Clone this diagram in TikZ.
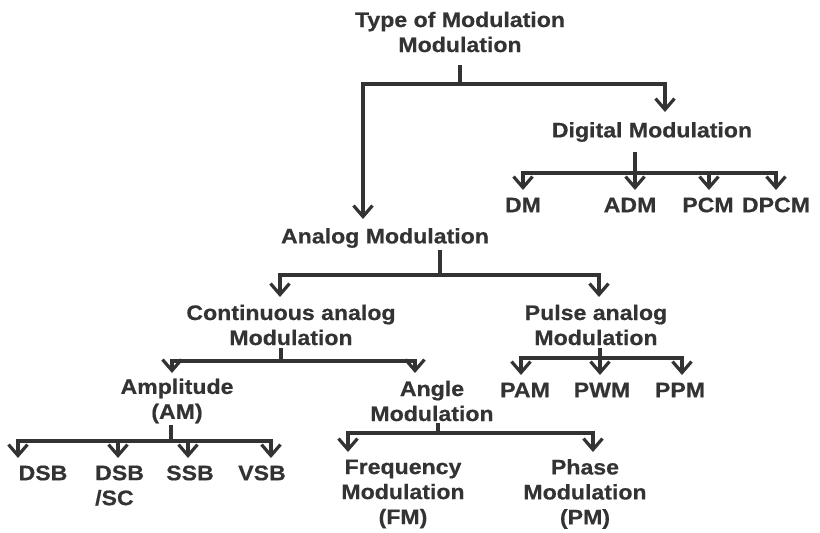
\documentclass[tikz,border=0pt]{standalone}
\usepackage{fontspec}
\newfontfamily\lab[FakeStretch=1.1,FakeBold=0.6]{Liberation Sans}
\usetikzlibrary{arrows.meta}
\definecolor{ink}{HTML}{333333}
\begin{document}
\begin{tikzpicture}[x=1pt,y=-1pt,
  lbl/.style={inner sep=0pt,align=center,text=ink,font=\lab\bfseries\fontsize{21}{25}\selectfont},
  ln/.style={draw=ink,line width=3.2pt},
  arr/.style={ln,-{Straight Barb[length=11pt,width=19pt]}}]
\useasboundingbox (0,0) rectangle (820,533);
% nodes
\node[lbl] (type) at (460,32) {Type of Modulation\\Modulation};
\node[lbl] (dig) at (652,132) {Digital Modulation};
\node[lbl] (dm) at (523,205) {DM};
\node[lbl] (adm) at (630,205) {ADM};
\node[lbl] (pcm) at (708,205) {PCM};
\node[lbl] (dpcm) at (776,205) {DPCM};
\node[lbl] (ana) at (385,238) {Analog Modulation};
\node[lbl] (cont) at (291,325) {Continuous analog\\Modulation};
\node[lbl] (pulse) at (596,325) {Pulse analog\\Modulation};
\node[lbl] (pam) at (525,390) {PAM};
\node[lbl] (pwm) at (602,390) {PWM};
\node[lbl] (ppm) at (680,390) {PPM};
\node[lbl] (amp) at (177,401) {Amplitude\\(AM)};
\node[lbl] (angle) at (432,401) {Angle\\Modulation};
\node[lbl] (dsb) at (43,473) {DSB};
\node[lbl,align=left,anchor=west] (dsbsc) at (95,485.5) {DSB\\/SC};
\node[lbl] (ssb) at (190,473) {SSB};
\node[lbl] (vsb) at (262,473) {VSB};
\node[lbl] (fm) at (403,494) {Frequency\\Modulation\\(FM)};
\node[lbl] (pm) at (585,494) {Phase\\Modulation\\(PM)};
% junctions and tips
\coordinate (s0) at (460,65); \coordinate (j0) at (460,84);
\coordinate (tdig) at (665,112); \coordinate (tana) at (363,219);
\coordinate (s1) at (635,152); \coordinate (j1) at (635,173);
\coordinate (tdm) at (523,190); \coordinate (tadm) at (635,190);
\coordinate (tpcm) at (709,190); \coordinate (tdpcm) at (776,190);
\coordinate (s2) at (440,250); \coordinate (j2) at (440,275);
\coordinate (tcont) at (280,297); \coordinate (tpulse) at (599,297);
\coordinate (s3) at (281,348); \coordinate (j3) at (281,361);
\coordinate (tamp) at (172,373); \coordinate (tangle) at (415,373);
\coordinate (s4) at (600,348); \coordinate (j4) at (600,358);
\coordinate (tpam) at (521,375); \coordinate (tpwm) at (600,375); \coordinate (tppm) at (682,375);
\coordinate (s5) at (171,425); \coordinate (j5) at (171,441);
\coordinate (tdsb) at (18,458); \coordinate (tdsbsc) at (118,458);
\coordinate (tssb) at (188,458); \coordinate (tvsb) at (271,458);
\coordinate (s6) at (438,423); \coordinate (j6) at (438,433);
\coordinate (tfm) at (348,452); \coordinate (tpm) at (593,452);
% connectors
\draw[ln] (s0) -- (j0);
\draw[arr] (j0) -| (tdig);
\draw[arr] (j0) -| (tana);
\draw[ln] (s1) -- (j1);
\draw[arr] (j1) -| (tdm);
\draw[arr] (j1) -- (tadm);
\draw[arr] (j1) -| (tpcm);
\draw[arr] (j1) -| (tdpcm);
\draw[ln] (s2) -- (j2);
\draw[arr] (j2) -| (tcont);
\draw[arr] (j2) -| (tpulse);
\draw[ln] (s3) -- (j3);
\draw[arr] (j3) -| (tamp);
\draw[arr] (j3) -| (tangle);
\draw[arr] (s4) -- (tpwm);
\draw[arr] (j4) -| (tpam);
\draw[arr] (j4) -| (tppm);
\draw[ln] (s5) -- (j5);
\draw[arr] (j5) -| (tdsb);
\draw[arr] (j5) -| (tdsbsc);
\draw[arr] (j5) -| (tssb);
\draw[arr] (j5) -| (tvsb);
\draw[ln] (s6) -- (j6);
\draw[arr] (j6) -| (tfm);
\draw[arr] (j6) -| (tpm);
\end{tikzpicture}
\end{document}
